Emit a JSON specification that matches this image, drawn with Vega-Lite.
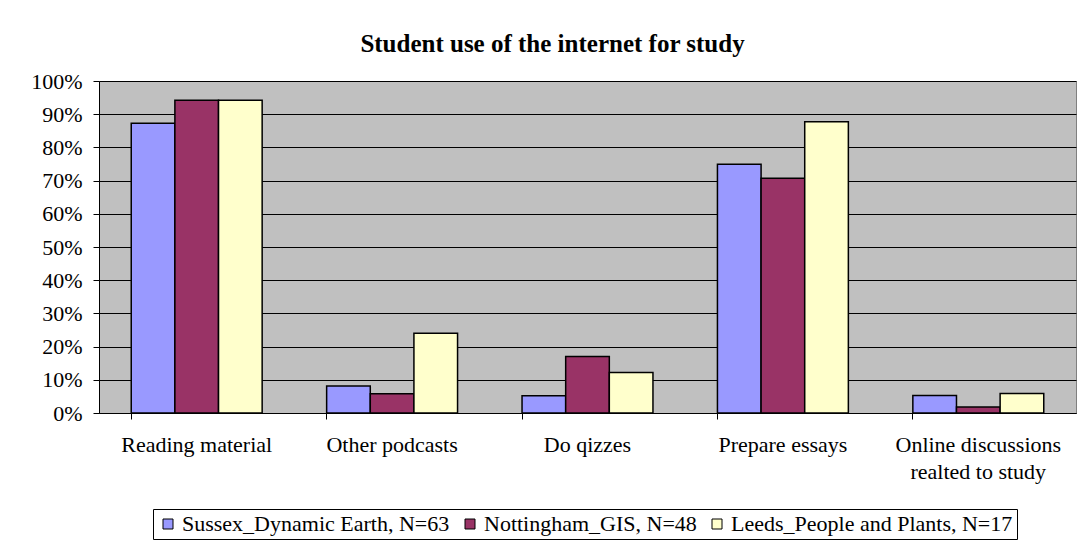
{
  "$schema": "https://vega.github.io/schema/vega-lite/v6.json",
  "width": 977,
  "height": 332,
  "autosize": {"type": "none"},
  "padding": {"left": 99, "top": 81, "right": 8, "bottom": 134},
  "background": "white",
  "title": {
    "text": "Student use of the internet for study",
    "anchor": "middle",
    "frame": "group",
    "baseline": "bottom",
    "offset": 25,
    "dx": -35,
    "dy": 37,
    "font": "Liberation Serif",
    "fontSize": 25,
    "fontWeight": "bold",
    "color": "black"
  },
  "data": {
    "values": [
      {"activity": "Reading material", "group": "Sussex_Dynamic Earth, N=63", "share": 0.873},
      {"activity": "Reading material", "group": "Nottingham_GIS, N=48", "share": 0.942},
      {"activity": "Reading material", "group": "Leeds_People and Plants, N=17", "share": 0.942},
      {"activity": "Other podcasts", "group": "Sussex_Dynamic Earth, N=63", "share": 0.081},
      {"activity": "Other podcasts", "group": "Nottingham_GIS, N=48", "share": 0.058},
      {"activity": "Other podcasts", "group": "Leeds_People and Plants, N=17", "share": 0.24},
      {"activity": "Do qizzes", "group": "Sussex_Dynamic Earth, N=63", "share": 0.052},
      {"activity": "Do qizzes", "group": "Nottingham_GIS, N=48", "share": 0.17},
      {"activity": "Do qizzes", "group": "Leeds_People and Plants, N=17", "share": 0.122},
      {"activity": "Prepare essays", "group": "Sussex_Dynamic Earth, N=63", "share": 0.749},
      {"activity": "Prepare essays", "group": "Nottingham_GIS, N=48", "share": 0.707},
      {"activity": "Prepare essays", "group": "Leeds_People and Plants, N=17", "share": 0.877},
      {"activity": "Online discussions realted to study", "group": "Sussex_Dynamic Earth, N=63", "share": 0.053},
      {"activity": "Online discussions realted to study", "group": "Nottingham_GIS, N=48", "share": 0.018},
      {"activity": "Online discussions realted to study", "group": "Leeds_People and Plants, N=17", "share": 0.059}
    ]
  },
  "mark": {"type": "bar", "stroke": "black", "strokeWidth": 1.5},
  "encoding": {
    "x": {
      "field": "activity",
      "type": "nominal",
      "sort": ["Reading material", "Other podcasts", "Do qizzes", "Prepare essays", "Online discussions realted to study"],
      "scale": {"paddingInner": 0.33, "paddingOuter": 0.165},
      "axis": {
        "title": null,
        "labelAngle": 0,
        "bandPosition": 0,
        "labelFont": "Liberation Serif",
        "labelFontSize": 22,
        "labelColor": "black",
        "labelPadding": 15,
        "labelLineHeight": 27,
        "labelLimit": 0,
        "labelExpr": "datum.value == 'Online discussions realted to study' ? ['Online discussions', 'realted to study'] : datum.label",
        "tickColor": "black",
        "tickSize": 6,
        "domainColor": "black",
        "domainWidth": 1,
        "grid": false
      }
    },
    "xOffset": {
      "field": "group",
      "type": "nominal",
      "sort": ["Sussex_Dynamic Earth, N=63", "Nottingham_GIS, N=48", "Leeds_People and Plants, N=17"],
      "scale": {"paddingInner": 0, "paddingOuter": 0}
    },
    "y": {
      "field": "share",
      "type": "quantitative",
      "scale": {"domain": [0, 1], "nice": false},
      "axis": {
        "title": null,
        "format": ".0%",
        "values": [0, 0.1, 0.2, 0.3, 0.4, 0.5, 0.6, 0.7, 0.8, 0.9, 1],
        "labelFont": "Liberation Serif",
        "labelFontSize": 22,
        "labelColor": "black",
        "labelPadding": 11,
        "tickColor": "black",
        "tickSize": 6,
        "domainColor": "black",
        "domainWidth": 1,
        "grid": true,
        "gridColor": "black",
        "gridWidth": 1,
        "gridOpacity": 1
      }
    },
    "color": {
      "field": "group",
      "type": "nominal",
      "sort": ["Sussex_Dynamic Earth, N=63", "Nottingham_GIS, N=48", "Leeds_People and Plants, N=17"],
      "scale": {
        "domain": ["Sussex_Dynamic Earth, N=63", "Nottingham_GIS, N=48", "Leeds_People and Plants, N=17"],
        "range": ["#9999FF", "#993366", "#FFFFCC"]
      },
      "legend": {
        "title": null,
        "orient": "none",
        "direction": "horizontal",
        "legendX": 54,
        "legendY": 428,
        "symbolType": "square",
        "symbolSize": 100,
        "symbolStrokeColor": "black",
        "symbolStrokeWidth": 1,
        "symbolOpacity": 1,
        "labelFont": "Liberation Serif",
        "labelFontSize": 22,
        "labelColor": "black",
        "labelOffset": 3,
        "labelLimit": 0,
        "columnPadding": 9,
        "strokeColor": "black",
        "fillColor": "white",
        "padding": 4
      }
    }
  },
  "config": {
    "font": "Liberation Serif",
    "legend": {"labelFont": "Liberation Serif"},
    "view": {"fill": "#C0C0C0", "stroke": "#808080", "strokeWidth": 1}
  }
}
